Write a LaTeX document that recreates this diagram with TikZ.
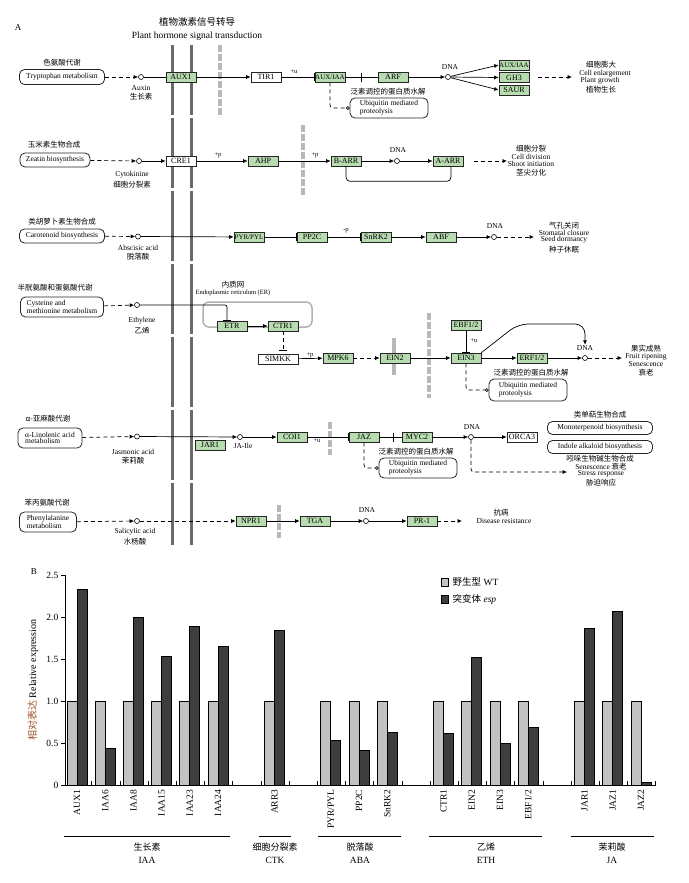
\documentclass[tikz,border=0pt]{standalone}
\usepackage{fontspec}
\setmainfont{Liberation Serif}
\newfontfamily\cjk{Noto Sans CJK SC}
\usetikzlibrary{arrows.meta}
\definecolor{gfill}{HTML}{B7DCB0}
\definecolor{membc}{HTML}{6A6A6A}
\definecolor{barc}{HTML}{B8B8B8}
\definecolor{wtc}{HTML}{C2C2C2}
\definecolor{mtc}{HTML}{3D3F3F}
\definecolor{ylabc}{HTML}{A0522D}
\begin{document}
\begin{tikzpicture}[x=1pt,y=-1pt,
  every node/.style={inner sep=0.5pt},
  gbox/.style={draw=black!85,fill=gfill,line width=0.6pt,minimum width=30pt,minimum height=10pt,inner sep=0pt,font=\fontsize{8}{8}\selectfont},
  wbox/.style={gbox,fill=white},
  nar/.style={font=\fontsize{7}{7}\selectfont},
  rbox/.style={draw=black!85,fill=white,line width=0.8pt,rounded corners=5pt,inner sep=1.5pt,font=\fontsize{7.5}{6.8}\selectfont,align=left},
  cpd/.style={circle,draw=black,fill=white,line width=0.6pt,minimum size=5pt,inner sep=0pt},
  ln/.style={line width=0.7pt},
  act/.style={ln,-{Latex[length=4.5pt,width=4pt]}},
  inh/.style={ln,-{Bar[width=8pt,line width=0.8pt]}},
  dsh/.style={ln,dash pattern=on 4pt off 3pt},
  dact/.style={dsh,-{Latex[length=4.5pt,width=4pt]}},
  dcirc/.style={dsh,-{Circle[open,length=3.5pt]}},
  cn/.style={font=\cjk\fontsize{7.5}{7.5}\selectfont},
  en/.style={font=\fontsize{7.5}{7.5}\selectfont},
  sm/.style={font=\fontsize{6.5}{6.5}\selectfont},
  barmark/.style={fill=black,minimum width=0.8pt,minimum height=9pt,inner sep=0pt},
  membl/.style={membc,line width=3pt,dash pattern=on 70pt off 3pt},
  gbar/.style={barc,line width=4pt,dash pattern=on 7pt off 2pt},
  chart/.style={font=\fontsize{9.5}{9.5}\selectfont},
  ccn/.style={font=\cjk\fontsize{9}{9}\selectfont},
]
\path[use as bounding box,fill=white] (0,0) rectangle (688,883);

% ---------- title ----------
\node[font=\fontsize{9}{9}\selectfont] (lA) at (18,28) {A};
\node[font=\cjk\fontsize{9.5}{10}\selectfont] (t1) at (197,22) {植物激素信号转导};
\node[font=\fontsize{9.5}{10}\selectfont] (t2) at (197,36) {Plant hormone signal transduction};

% ---------- membranes & barriers ----------
\draw[membl] (172,45) -- (172,545);
\draw[membl] (191,45) -- (191,545);
\draw[gbar] (220,45) -- (220,117);
\draw[gbar] (303,125) -- (303,197);
\draw[gbar] (429,313) -- (429,398);
\draw[barc,line width=4pt] (394,338) -- (394,375);
\draw[gbar] (330,422) -- (330,455);
\draw[gbar] (279,505) -- (279,538);

% ---------- row 1: auxin ----------
\node[cn] (r1c) at (62,63) {色氨酸代谢};
\node[rbox,minimum width=85pt,minimum height=15pt,align=center] (trp) at (62,77) {Tryptophan metabolism};
\node[cpd] (c1) at (141,77) {};
\node[en] (aux) at (141,88) {Auxin};
\node[cn] (auxc) at (141,97) {生长素};
\node[gbox] (aux1) at (181,77) {AUX1};
\node[wbox] (tir1) at (266,77) {TIR1};
\node[sm] (u1) at (294,72) {+u};
\node[gbox,nar] (auxiaa) at (330,77) {AUX/IAA};
\node[gbox] (arf) at (393,77) {ARF};
\node[cpd] (d1) at (448,77) {};
\node[en] (dna1) at (450,67) {DNA};
\node[gbox,nar] (aux2) at (514,65) {AUX/IAA};
\node[gbox] (gh3) at (514,77.5) {GH3};
\node[gbox] (saur) at (514,90) {SAUR};
\coordinate (s1) at (538,77);
\coordinate (e1) at (572,77);
\node[cn] (o1a) at (601,65) {细胞膨大};
\node[en] (o1b) at (605,73.5) {Cell enlargement};
\node[en] (o1c) at (600,80.5) {Plant growth};
\node[cn] (o1d) at (601,90) {植物生长};
\node[cn] (ub1t) at (388,92) {泛素调控的蛋白质水解};
\node[rbox,minimum width=78pt,minimum height=20pt] (ubq1) at (389,108) {Ubiquitin mediated\\proteolysis};
\draw[dact] (trp) -- (c1);
\draw[ln] (c1) -- (aux1);
\draw[act] (aux1) -- (tir1);
\draw[inh] (tir1) -- (auxiaa);
\draw[ln] (auxiaa) -- node[barmark,pos=0.5] (b1) {} (arf);
\draw[act] (arf) -- (d1);
\draw[act] (d1) -- (aux2.west);
\draw[act] (d1) -- (gh3.west);
\draw[act] (d1) -- (saur.west);
\draw[dact] (s1) -- (e1);
\draw[dcirc,rounded corners=3pt] (auxiaa.south) |- (ubq1.west);

% ---------- row 2: cytokinine ----------
\node[cn] (r2c) at (54,145) {玉米素生物合成};
\node[rbox,minimum width=70pt,minimum height=14pt,align=center] (zea) at (55,160) {Zeatin biosynthesis};
\node[cpd] (c2) at (139,161) {};
\node[en] (cyt) at (132,175) {Cytokinine};
\node[cn] (cytc) at (132,185) {细胞分裂素};
\node[wbox] (cre1) at (181,161) {CRE1};
\node[sm] (p2a) at (218,155) {+p};
\node[gbox] (ahp) at (263,161) {AHP};
\node[sm] (p2b) at (315,155) {+p};
\node[gbox] (barr) at (346,161) {B-ARR};
\node[cpd] (d2) at (397,161) {};
\node[en] (dna2) at (398,150) {DNA};
\node[gbox] (aarr) at (448,161) {A-ARR};
\coordinate (s2) at (474,161);
\coordinate (e2) at (507,161);
\node[cn] (o2a) at (531,149) {细胞分裂};
\node[en] (o2b) at (531,157) {Cell division};
\node[en] (o2c) at (531,164) {Shoot initiation};
\node[cn] (o2d) at (531,173) {茎尖分化};
\draw[dact] (zea) -- (c2);
\draw[act] (c2) -- (cre1);
\draw[act] (cre1) -- (ahp);
\draw[act] (ahp) -- (barr);
\draw[act] (barr) -- (d2);
\draw[act] (d2) -- (aarr);
\draw[ln,rounded corners=4pt] ([xshift=3pt]aarr.south) -- ++(0,15) -| (barr.south);
\draw[dact] (s2) -- (e2);

% ---------- row 3: ABA ----------
\node[cn] (r3c) at (62,222) {类胡萝卜素生物合成};
\node[rbox,minimum width=85pt,minimum height=14pt,align=center] (car) at (62,236) {Carotenoid biosynthesis};
\node[cpd] (c3) at (138,236.5) {};
\node[en] (aba) at (138,248) {Abscisic acid};
\node[cn] (abac) at (138,257) {脱落酸};
\node[gbox,nar] (pyr) at (249,237) {PYR/PYL};
\node[gbox] (pp2c) at (312,237) {PP2C};
\node[sm] (p3) at (346,231) {-p};
\node[gbox] (snrk) at (376,237) {SnRK2};
\node[gbox] (abf) at (441,237) {ABF};
\node[cpd] (d3) at (494,237) {};
\node[en] (dna3) at (495,226) {DNA};
\coordinate (e3) at (534,237);
\node[cn] (o3a) at (564,226) {气孔关闭};
\node[en] (o3b) at (564,233) {Stomatal closure};
\node[en] (o3c) at (564,240) {Seed dormancy};
\node[cn] (o3d) at (564,250) {种子休眠};
\draw[dact] (car) -- (c3);
\draw[act] (c3) -- (pyr);
\draw[inh] (pyr) -- (pp2c);
\draw[inh] (pp2c) -- (snrk);
\draw[act] (snrk) -- (abf);
\draw[act] (abf) -- (d3);
\draw[dact] (d3) -- (e3);

% ---------- row 4: ethylene ----------
\node[cn] (r4c) at (55,288) {半胱氨酸和蛋氨酸代谢};
\node[rbox,minimum width=83pt,minimum height=20pt] (cys) at (62,307) {Cysteine and\\methionine metabolism};
\node[cpd] (c4) at (137,305) {};
\node[en] (eth) at (142,321) {Ethylene};
\node[cn] (ethc) at (142,331) {乙烯};
\draw[black!30,line width=1.5pt,rounded corners=6pt] (203,302) rectangle (312,327);
\node[cn] (erc) at (233,285) {内质网};
\node[sm] (ere) at (233,293) {Endoplasmic reticulum (ER)};
\node[gbox] (etr) at (232,326) {ETR};
\node[gbox] (ctr1) at (283,326) {CTR1};
\node[wbox,minimum width=40pt] (simkk) at (278,359) {SIMKK};
\node[sm] (p4) at (310,355) {+p};
\node[gbox] (mpk6) at (338,358) {MPK6};
\node[gbox] (ein2) at (395,358) {EIN2};
\node[gbox] (ein3) at (466,358) {EIN3};
\node[gbox] (ebf) at (466,325) {EBF1/2};
\node[sm] (u4) at (474,341) {+u};
\node[gbox] (erf) at (532,358) {ERF1/2};
\node[cpd] (d4) at (585,358) {};
\node[en] (dna4) at (585,348) {DNA};
\coordinate (k4) at (585,324);
\coordinate (e4) at (622,358);
\node[cn] (o4a) at (646,349) {果实成熟};
\node[en] (o4b) at (646,357) {Fruit ripening};
\node[en] (o4c) at (646,364) {Senescence};
\node[cn] (o4d) at (646,373) {衰老};
\node[cn] (ub2t) at (531,373) {泛素调控的蛋白质水解};
\node[rbox,minimum width=78pt,minimum height=22pt] (ubq2) at (528,390) {Ubiquitin mediated\\proteolysis};
\draw[dact] (cys) -- (c4);
\draw[inh,rounded corners=2pt] (c4) -| ([xshift=-5pt]etr.north);
\draw[act] (etr) -- (ctr1);
\draw[dsh,-{Bar[width=8pt,line width=0.8pt]},shorten >=3pt] (ctr1.south) -- (ctr1.south |- simkk.north);
\draw[act] (simkk) -- (mpk6);
\draw[dact] (mpk6) -- (ein2);
\draw[act] (ein2) -- (ein3);
\draw[inh] (ebf) -- (ein3);
\draw[act] (ein3) -- (erf);
\draw[act] (erf) -- (d4);
\draw[act,rounded corners=10pt] (ein3.north east) -- (518,324) -- (k4) -- (dna4.north);
\draw[dact] (d4) -- (e4);
\draw[dcirc,rounded corners=3pt] (ein3.south) |- (ubq2.west);

% ---------- row 5: JA ----------
\node[cn] (r5c) at (48,419) {α-亚麻酸代谢};
\node[rbox,minimum width=64pt,minimum height=20pt] (lin) at (50,438) {α-Linolenic acid\\metabolism};
\node[cpd] (c5) at (137,436.5) {};
\node[en] (ja) at (133,452) {Jasmonic acid};
\node[cn] (jac) at (133,461) {茉莉酸};
\node[cpd] (jaile) at (240,437) {};
\node[en] (jailet) at (243,446) {JA-Ile};
\node[gbox] (jar1) at (210,445) {JAR1};
\node[gbox] (coi1) at (292,437) {COI1};
\node[sm] (u5) at (317,441) {+u};
\node[gbox] (jaz) at (364,437) {JAZ};
\node[gbox] (myc2) at (417,437) {MYC2};
\node[cpd] (d5) at (471,437) {};
\node[en] (dna5) at (472,427) {DNA};
\node[wbox] (orca3) at (522,437) {ORCA3};
\node[cn] (ub3t) at (416,452) {泛素调控的蛋白质水解};
\node[rbox,minimum width=78pt,minimum height=20pt] (ubq3) at (418,468) {Ubiquitin mediated\\proteolysis};
\coordinate (e5) at (567,472);
\node[cn] (o5t) at (600,415) {类单萜生物合成};
\node[rbox,minimum width=105pt,minimum height=13pt,align=center] (mono) at (600,428) {Monoterpenoid biosynthesis};
\node[rbox,minimum width=105pt,minimum height=13pt,align=center] (indole) at (600,447) {Indole alkaloid biosynthesis};
\node[cn] (o5a) at (600,459) {吲哚生物碱生物合成};
\node[en] (o5b) at (601,467) {Senescence {\cjk 衰老}};
\node[en] (o5c) at (601,474) {Stress response};
\node[cn] (o5d) at (601,483) {胁迫响应};
\draw[dact] (lin) -- (c5);
\draw[act] (c5) -- (jaile);
\draw[act] (jaile) -- (coi1);
\draw[inh] (coi1) -- (jaz);
\draw[ln] (jaz) -- node[barmark,pos=0.65] (b5) {} (myc2);
\draw[act] (myc2) -- (d5);
\draw[act] (d5) -- (orca3);
\draw[dcirc,rounded corners=3pt] (jaz.south) |- (ubq3.west);
\draw[dact,rounded corners=3pt] (d5.south) |- (e5);

% ---------- row 6: SA ----------
\node[cn] (r6c) at (47,503) {苯丙氨酸代谢};
\node[rbox,minimum width=57pt,minimum height=20pt] (phe) at (48,522) {Phenylalanine\\metabolism};
\node[cpd] (c6) at (137,521) {};
\node[en] (sa) at (135,532) {Salicylic acid};
\node[cn] (sac) at (135,542) {水杨酸};
\node[gbox] (npr1) at (251,521) {NPR1};
\node[gbox] (tga) at (315,521) {TGA};
\node[cpd] (d6) at (366,521) {};
\node[en] (dna6) at (367,510) {DNA};
\node[gbox] (pr1) at (422,521) {PR-1};
\coordinate (e6) at (462,521);
\node[cn] (o6a) at (501,513) {抗病};
\node[en] (o6b) at (504,521) {Disease resistance};
\draw[dact] (phe) -- (c6);
\draw[dact] (c6) -- (npr1);
\draw[act] (npr1) -- (tga);
\draw[act] (tga) -- (d6);
\draw[act] (d6) -- (pr1);
\draw[dact] (pr1) -- (e6);

% ---------- chart B ----------
\node[font=\fontsize{9}{9}\selectfont] (lB) at (34,572) {B};
\foreach \v/\t in {0/0,0.5/0.5,1/1.0,1.5/1.5,2/2.0,2.5/2.5}{
  \draw[line width=0.7pt] (61,785-84*\v) -- (65,785-84*\v);
  \node[chart,anchor=east] at (59,785-84*\v) {\t};
}
\foreach \i in {1,...,21}{
  \draw[line width=0.7pt] (63.5+28.2*\i,785) -- (63.5+28.2*\i,781);
}
\foreach \i/\g/\m in {0/AUX1/2.33,1/IAA6/0.44,2/IAA8/2.0,3/IAA15/1.53,4/IAA23/1.89,5/IAA24/1.65,7/ARR3/1.84,9/{PYR/PYL}/0.53,10/PP2C/0.41,11/SnRK2/0.63,13/CTR1/0.62,14/EIN2/1.52,15/EIN3/0.50,16/{EBF1/2}/0.69,18/JAR1/1.87,19/JAZ1/2.07,20/JAZ2/0.03}{
  \pgfmathsetmacro{\xo}{67+28.2*\i}
  \draw[fill=wtc,line width=0.7pt] (\xo,785) rectangle (\xo+10,701);
  \draw[fill=mtc,line width=0.7pt] (\xo+10,785) rectangle (\xo+20,785-84*\m);
  \node[chart,rotate=90,anchor=east] at (\xo+10,789) {\g};
}
\draw[line width=0.8pt] (65,575) -- (65,785) -- (656,785);
\node[rotate=90,font=\fontsize{10}{10}\selectfont] (ylab) at (33,680) {{\cjk\color{ylabc}相对表达} Relative expression};
% groups
\draw[line width=0.7pt] (64,836) -- (230,836);
\draw[line width=0.7pt] (259,836) -- (291,836);
\draw[line width=0.7pt] (318,836) -- (401,836);
\draw[line width=0.7pt] (429,836) -- (542,836);
\draw[line width=0.7pt] (571,836) -- (654,836);
\node[ccn] (g1a) at (147,847) {生长素};   \node[chart] (g1b) at (147,860) {IAA};
\node[ccn] (g2a) at (275,847) {细胞分裂素}; \node[chart] (g2b) at (275,860) {CTK};
\node[ccn] (g3a) at (360,847) {脱落酸};   \node[chart] (g3b) at (360,860) {ABA};
\node[ccn] (g4a) at (486,847) {乙烯};     \node[chart] (g4b) at (486,860) {ETH};
\node[ccn] (g5a) at (612,847) {茉莉酸};   \node[chart] (g5b) at (612,860) {JA};
% legend
\draw[fill=wtc,line width=0.7pt] (441,578) rectangle (448,586);
\draw[fill=mtc,line width=0.7pt] (441,595) rectangle (448,603);
\node[chart,anchor=west] (lg1) at (452,582) {{\cjk 野生型} WT};
\node[chart,anchor=west] (lg2) at (452,599) {{\cjk 突变体} \textit{esp}};
\end{tikzpicture}
\end{document}
